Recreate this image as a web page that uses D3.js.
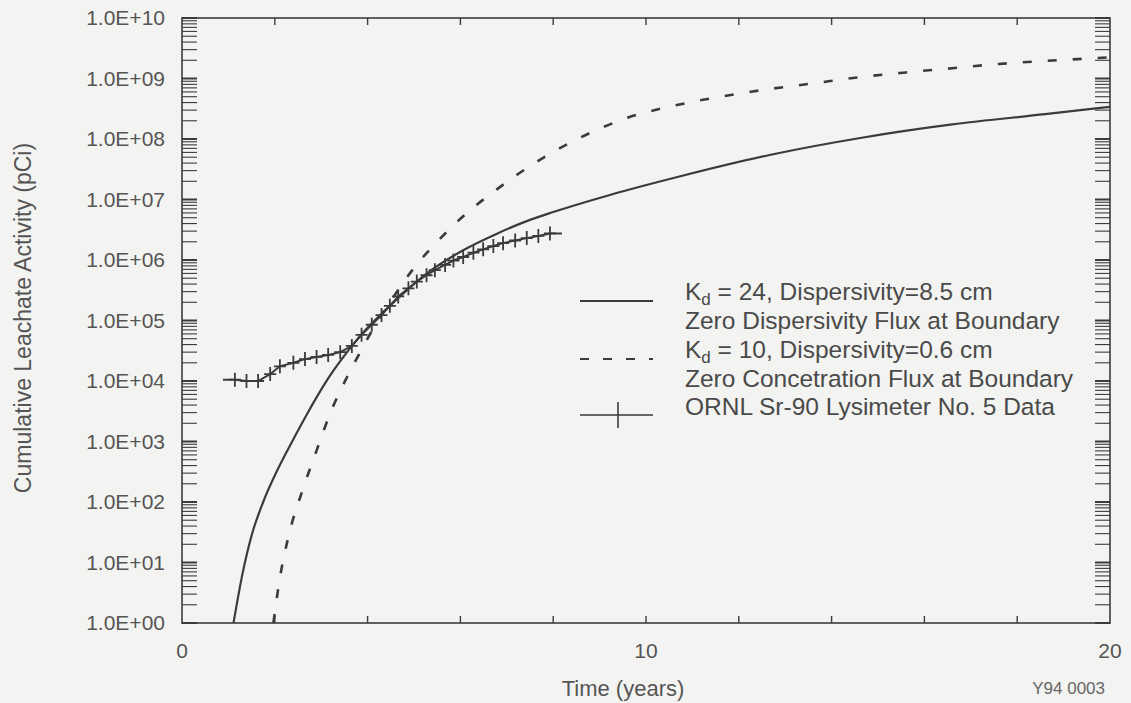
<!DOCTYPE html>
<html>
<head>
<meta charset="utf-8">
<script src="https://cdn.jsdelivr.net/npm/d3@7"></script>
<style>
  html, body { margin: 0; padding: 0; background: #f3f3f1; }
  svg { display: block; font-family: 'Liberation Sans', Arial, sans-serif; }
</style>
</head>
<body>
<svg id="chart"></svg>
<script>
const WIDTH = 1131;
const HEIGHT = 703;
const PLOT = { left: 182, right: 1110, top: 18, bottom: 623 };
const INK = '#3b3b3b';
const TEXT = '#555';

// Kd = 24, dispersivity 8.5 cm (solid)
const solidTime = [1.11, 1.3, 1.5, 1.75, 2.07, 2.36, 2.69, 2.97, 3.2, 3.5, 3.9, 4.35, 4.8, 5.35, 6.06, 6.8, 7.5, 8.0, 9.24, 10.72, 12.69, 14.65, 16.6, 18.6, 20];
const solidActivity = [1.0, 6.3, 28, 100, 355, 955, 2.8e3, 6.6e3, 1.26e4, 2.63e4, 6.3e4, 1.41e5, 2.95e5, 6.6e5, 1.45e6, 2.75e6, 4.6e6, 6.2e6, 1.2e7, 2.4e7, 5.5e7, 1.05e8, 1.74e8, 2.57e8, 3.4e8];

// Kd = 10, dispersivity 0.6 cm (dashed)
const dashedTime = [1.97, 2.1, 2.3, 2.6, 2.9, 3.2, 3.5, 3.8, 4.2, 4.6, 5.0, 5.5, 6.0, 6.8, 7.6, 8.6, 9.6, 10.6, 11.6, 12.6, 13.6, 14.6, 15.6, 16.6, 17.6, 18.6, 20];
const dashedActivity = [1.0, 5.0, 28, 158, 708, 3.0e3, 9.5e3, 2.63e4, 9.3e4, 2.75e5, 7.4e5, 2.0e6, 4.8e6, 1.5e7, 4.0e7, 1.07e8, 2.24e8, 3.55e8, 5.0e8, 6.6e8, 8.3e8, 1.05e9, 1.26e9, 1.48e9, 1.74e9, 1.95e9, 2.24e9];

// ORNL Sr-90 lysimeter no. 5 measurements
const dataTime = [1.14, 1.39, 1.64, 1.90, 2.11, 2.40, 2.65, 2.90, 3.15, 3.41, 3.66, 3.87, 4.09, 4.30, 4.48, 4.66, 4.88, 5.06, 5.27, 5.45, 5.67, 5.85, 6.06, 6.28, 6.49, 6.71, 6.92, 7.18, 7.43, 7.68, 7.93];
const dataActivity = [1.05e4, 1.0e4, 1.0e4, 1.3e4, 1.75e4, 2.0e4, 2.3e4, 2.5e4, 2.7e4, 3.0e4, 3.8e4, 5.8e4, 8.5e4, 1.23e5, 1.75e5, 2.5e5, 3.4e5, 4.4e5, 5.6e5, 6.8e5, 8.3e5, 9.8e5, 1.12e6, 1.32e6, 1.5e6, 1.7e6, 1.9e6, 2.1e6, 2.3e6, 2.5e6, 2.75e6];

const xTickLabels = [0, 10, 20];
const xMinorTicks = [2, 4, 6, 8, 10, 12, 14, 16, 18];
const yDecades = ['1.0E+00', '1.0E+01', '1.0E+02', '1.0E+03', '1.0E+04', '1.0E+05', '1.0E+06', '1.0E+07', '1.0E+08', '1.0E+09', '1.0E+10'];

const legendRows = [
	{ sub: true, head: 'K', tail: ' = 24, Dispersivity=8.5 cm', mark: 'solid' },
	{ text: 'Zero Dispersivity Flux at Boundary' },
	{ sub: true, head: 'K', tail: ' = 10, Dispersivity=0.6 cm', mark: 'dashed' },
	{ text: 'Zero Concetration Flux at Boundary' },
	{ text: 'ORNL Sr-90 Lysimeter No. 5 Data', mark: 'cross' }
];

const svg = d3.select('#chart').attr('width', WIDTH).attr('height', HEIGHT);

const x = d3.scaleLinear().domain([0, 20]).range([PLOT.left, PLOT.right]);
const y = d3.scaleLog().domain([1, 1e10]).range([PLOT.bottom, PLOT.top]);

svg.append('defs')
	.append('clipPath')
	.attr('id', 'plot-clip')
	.append('rect')
	.attr('x', PLOT.left)
	.attr('y', PLOT.top)
	.attr('width', PLOT.right - PLOT.left)
	.attr('height', PLOT.bottom - PLOT.top);

// minor/major log ticks, both sides pointing inward
const logTicks = [];
for (let e = 0; e < 10; e++) {
	for (let m = 1; m <= 9; m++) logTicks.push({ v: m * Math.pow(10, e), major: m === 1 });
}
logTicks.push({ v: 1e10, major: true });

const tickGroup = svg.append('g').attr('stroke', INK);
[[PLOT.left, 15], [PLOT.right, -15]].forEach(([x0, len]) => {
	tickGroup.selectAll(null)
		.data(logTicks)
		.enter()
		.append('line')
		.attr('x1', x0)
		.attr('x2', x0 + len)
		.attr('y1', (d) => y(d.v))
		.attr('y2', (d) => y(d.v))
		.attr('stroke-width', (d) => (d.major ? 2 : 1.1));
});

// x ticks on bottom and top
[[PLOT.bottom, -7], [PLOT.top, 7]].forEach(([y0, len]) => {
	tickGroup.selectAll(null)
		.data(xMinorTicks)
		.enter()
		.append('line')
		.attr('x1', (d) => x(d))
		.attr('x2', (d) => x(d))
		.attr('y1', y0)
		.attr('y2', y0 + len)
		.attr('stroke-width', 1.4);
});

// frame
svg.append('rect')
	.attr('x', PLOT.left)
	.attr('y', PLOT.top)
	.attr('width', PLOT.right - PLOT.left)
	.attr('height', PLOT.bottom - PLOT.top)
	.attr('fill', 'none')
	.attr('stroke', INK)
	.attr('stroke-width', 1.6);

// y tick labels
svg.append('g')
	.selectAll('text')
	.data(yDecades)
	.enter()
	.append('text')
	.attr('x', 165)
	.attr('y', (d, i) => y(Math.pow(10, i)) + 7)
	.attr('text-anchor', 'end')
	.attr('font-size', 21)
	.attr('fill', TEXT)
	.text((d) => d);

// x tick labels
svg.append('g')
	.selectAll('text')
	.data(xTickLabels)
	.enter()
	.append('text')
	.attr('x', (d) => x(d))
	.attr('y', 658)
	.attr('text-anchor', 'middle')
	.attr('font-size', 21)
	.attr('fill', TEXT)
	.text((d) => d);

svg.append('text')
	.attr('x', 623)
	.attr('y', 696)
	.attr('text-anchor', 'middle')
	.attr('font-size', 22)
	.attr('fill', TEXT)
	.text('Time (years)');

svg.append('text')
	.attr('transform', 'translate(31,318) rotate(-90)')
	.attr('text-anchor', 'middle')
	.attr('font-size', 23)
	.attr('fill', TEXT)
	.text('Cumulative Leachate Activity (pCi)');

svg.append('text')
	.attr('x', 1105)
	.attr('y', 694)
	.attr('text-anchor', 'end')
	.attr('font-size', 17)
	.attr('fill', '#666')
	.text('Y94 0003');

// curves
const plot = svg.append('g').attr('clip-path', 'url(#plot-clip)');
const curve = d3.line()
	.x((d) => x(d[0]))
	.y((d) => y(d[1]))
	.curve(d3.curveMonotoneX);

plot.append('path')
	.datum(d3.zip(solidTime, solidActivity))
	.attr('d', curve)
	.attr('fill', 'none')
	.attr('stroke', INK)
	.attr('stroke-width', 2.2);

plot.append('path')
	.datum(d3.zip(dashedTime, dashedActivity))
	.attr('d', curve)
	.attr('fill', 'none')
	.attr('stroke', INK)
	.attr('stroke-width', 2.6)
	.attr('stroke-dasharray', '9,16');

// measured data: joined line plus cross markers
const dataPoints = d3.zip(dataTime, dataActivity);
const first = dataPoints[0];
const last = dataPoints[dataPoints.length - 1];
const armPx = 12;
plot.append('path')
	.datum(dataPoints)
	.attr('d', (pts) => {
		const line = d3.line().x((d) => x(d[0])).y((d) => y(d[1]))(pts);
		return `M${x(first[0]) - armPx},${y(first[1])}L` + line.slice(1) + `L${x(last[0]) + armPx},${y(last[1])}`;
	})
	.attr('fill', 'none')
	.attr('stroke', INK)
	.attr('stroke-width', 2);

const crosses = plot.append('g').attr('stroke', INK).attr('stroke-width', 1.8);
crosses.selectAll(null)
	.data(dataPoints)
	.enter()
	.append('path')
	.attr('d', (d) => {
		const cx = x(d[0]);
		const cy = y(d[1]);
		return `M${cx - 6},${cy}H${cx + 6}M${cx},${cy - 7}V${cy + 7}`;
	});

// legend
const legend = svg.append('g').attr('fill', '#4a4a4a').attr('font-size', 24.5);
const rowBase = [300, 329, 358, 387, 415];
legendRows.forEach((row, i) => {
	const t = legend.append('text').attr('x', 685).attr('y', rowBase[i]);
	if (row.sub) {
		t.append('tspan').text(row.head);
		t.append('tspan').attr('font-size', 17).attr('dy', 5).text('d');
		t.append('tspan').attr('dy', -5).text(row.tail);
	} else {
		t.text(row.text);
	}
	const ly = rowBase[i] + 1;
	if (row.mark === 'solid') {
		svg.append('line').attr('x1', 580).attr('x2', 653).attr('y1', ly).attr('y2', ly)
			.attr('stroke', INK).attr('stroke-width', 1.8);
	} else if (row.mark === 'dashed') {
		svg.append('line').attr('x1', 580).attr('x2', 653).attr('y1', ly).attr('y2', ly)
			.attr('stroke', INK).attr('stroke-width', 1.8).attr('stroke-dasharray', '9,14');
	} else if (row.mark === 'cross') {
		svg.append('path')
			.attr('d', `M580,${ly - 1}H653M618,${ly - 14}V${ly + 12}`)
			.attr('stroke', INK).attr('stroke-width', 1.6).attr('fill', 'none');
	}
});
</script>
</body>
</html>
